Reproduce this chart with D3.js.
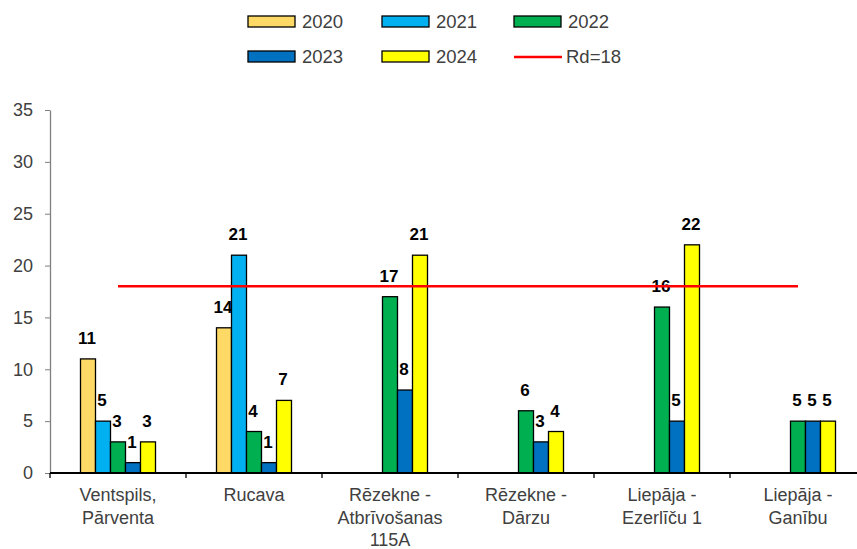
<!DOCTYPE html>
<html><head><meta charset="utf-8">
<script src="https://cdn.jsdelivr.net/npm/d3@7"></script>
<style>body{margin:0;background:#fff}svg{display:block;font-family:"Liberation Sans",Arial,sans-serif}</style>
</head><body><svg id="c" width="857" height="549"></svg>
<script>
const categories = [["Ventspils,","Pārventa"],["Rucava"],["Rēzekne -","Atbrīvošanas","115A"],["Rēzekne -","Dārzu"],["Liepāja -","Ezerlīču 1"],["Liepāja -","Ganību"]];
const seriesNames = ["2020","2021","2022","2023","2024"];
const seriesColors = ["#FFD966","#00B0F0","#00B050","#0070C0","#FFFF00"];
const v2020 = [11,14,null,null,null,null];
const v2021 = [5,21,null,null,null,null];
const v2022 = [3,4,17,6,16,5];
const v2023 = [1,1,8,3,5,5];
const v2024 = [3,7,21,4,22,5];
const limitValue = 18;
const limitLabel = "Rd=18";
const yTicks = [0,5,10,15,20,25,30,35];

const series = [v2020,v2021,v2022,v2023,v2024];
const svg = d3.select("#c");
const x = d3.scaleBand().domain(d3.range(categories.length)).range([50,866]).padding(0);
const y = d3.scaleLinear().domain([0,35]).range([473,110]);
const inner = d3.scaleBand().domain(d3.range(5)).range([0,75]);

// y axis
const ya = svg.append("g").attr("transform","translate(50,0)").call(d3.axisLeft(y).tickValues(yTicks).tickSize(5).tickSizeOuter(0).tickPadding(12));
ya.select(".domain").attr("stroke","#808080").attr("stroke-width",1.3);
ya.selectAll(".tick line").attr("stroke","#808080");
ya.selectAll(".tick text").attr("fill","#404040").style("font-size","18px").style("font-family","Liberation Sans, Arial");

// bars
categories.forEach((c,i)=>{
  const gx = x(i) + x.bandwidth()/2 - 37.5;
  series.forEach((s,j)=>{
    const v = s[i];
    if(v==null) return;
    svg.append("rect").attr("x",gx+inner(j)).attr("y",y(v)).attr("width",inner.bandwidth()).attr("height",y(0)-y(v))
      .attr("fill",seriesColors[j]).attr("stroke","#000").attr("stroke-width",1.3);
    svg.append("text").attr("x",gx+inner(j)+inner.bandwidth()/2-1).attr("y",y(v)-15).attr("text-anchor","middle")
      .attr("font-weight","bold").attr("font-size","17px").attr("fill","#000").text(v);
  });
});

// x axis
const xa = svg.append("g").attr("transform","translate(0,473)");
xa.append("line").attr("x1",50).attr("x2",857).attr("stroke","#000").attr("stroke-width",2);
d3.range(categories.length+1).forEach(i=>{
  const px = i<categories.length ? x(i) : 866;
  xa.append("line").attr("x1",px).attr("x2",px).attr("y1",0).attr("y2",5).attr("stroke","#000").attr("stroke-width",1.3);
});
categories.forEach((c,i)=>{
  const t = svg.append("text").attr("text-anchor","middle").attr("font-size","18px").attr("fill","#404040");
  c.forEach((line,k)=>t.append("tspan").attr("x",x(i)+x.bandwidth()/2).attr("y",501+k*22.5).text(line));
});

// limit line
svg.append("line").attr("x1",x(0)+x.bandwidth()/2).attr("x2",x(5)+x.bandwidth()/2).attr("y1",y(limitValue)).attr("y2",y(limitValue))
  .attr("stroke","#FF0000").attr("stroke-width",2.5);

// legend
const legPos = [[248,16],[382,16],[514,16],[248,51],[382,51]];
seriesNames.forEach((n,j)=>{
  const [lx,ly] = legPos[j];
  svg.append("rect").attr("x",lx).attr("y",ly).attr("width",47).attr("height",11).attr("fill",seriesColors[j]).attr("stroke","#000").attr("stroke-width",1.3);
  svg.append("text").attr("x",lx+54).attr("y",ly+12).attr("font-size","18.5px").attr("fill","#404040").text(n);
});
svg.append("line").attr("x1",514).attr("x2",562).attr("y1",57).attr("y2",57).attr("stroke","#FF0000").attr("stroke-width",2.5);
svg.append("text").attr("x",566).attr("y",63).attr("font-size","18.5px").attr("fill","#404040").text(limitLabel);
</script></body></html>
